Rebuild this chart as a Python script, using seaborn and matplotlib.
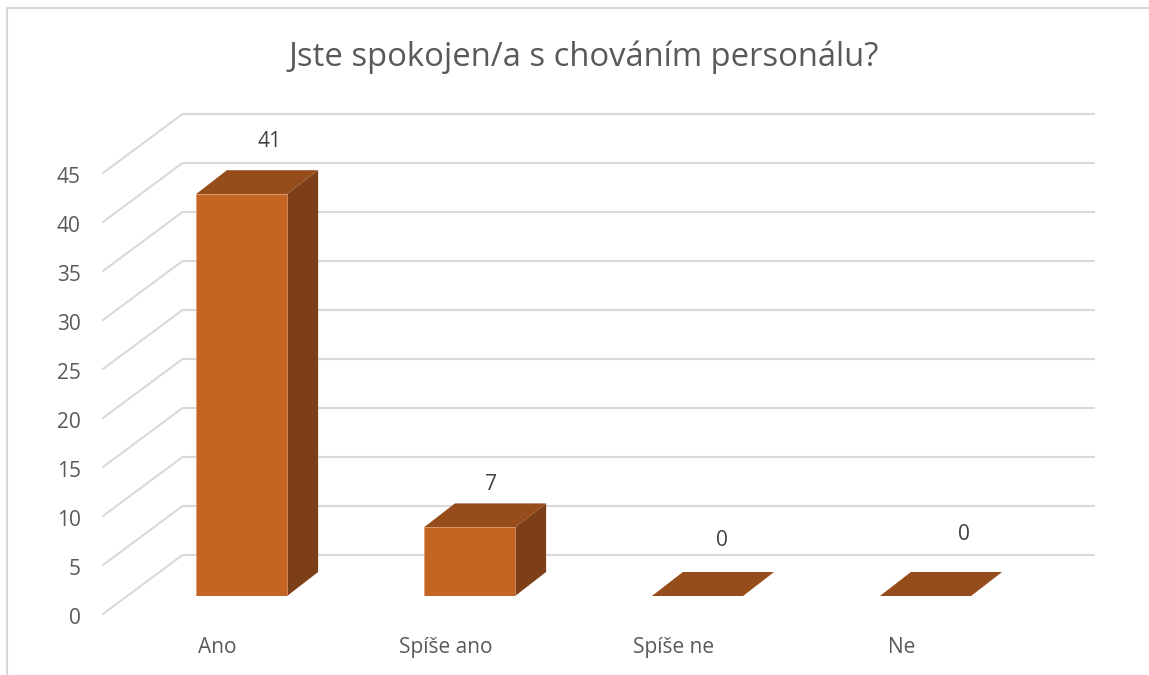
import matplotlib
matplotlib.use("Agg")
import matplotlib.pyplot as plt
import pandas as pd
import seaborn as sns
from matplotlib.lines import Line2D
from matplotlib.patches import Polygon
from matplotlib.transforms import Affine2D, IdentityTransform

categories = ["Ano", "Spíše ano", "Spíše ne", "Ne"]
counts = [41, 7, 0, 0]
y_ticks = [0, 5, 10, 15, 20, 25, 30, 35, 40, 45]
title = "Jste spokojen/a s chováním personálu?"

# label nudges in px from the bar centre / bar top, excel placed them oddly
label_nudges = [(28, 53), (21, 43), (24.5, 56), (38.5, 61)]

FRONT_COLOR = "#C46524"
TOP_COLOR = "#964D1B"
SIDE_COLOR = "#7D3F17"
GRID_COLOR = "#D9D9D9"
TEXT_COLOR = "#595959"

W, H = 1149, 675
FRONT_WALL = (-24.5, -18)  # display offset of the front edge of the floor
BACK_WALL = (55, 41)       # display offset of the back wall
BAR_DEPTH = (31, 24)       # display offset of the back of a bar

sns.set_theme(style="white")
plt.rcParams["font.family"] = ["Open Sans", "DejaVu Sans"]

fig = plt.figure(figsize=(W / 100, H / 100), dpi=100)
ax = fig.add_axes([127.5 / W, (H - 596) / H, 912 / W, 441 / H])

df = pd.DataFrame({"odpoved": categories, "pocet": counts})
sns.barplot(data=df, x="odpoved", y="pocet", color=FRONT_COLOR, saturation=1,
            width=0.4, edgecolor="#DE9A70", linewidth=0.5, zorder=3, ax=ax)
ax.set_xlim(-0.5, 3.5)
ax.set_ylim(0, 45)
ax.set_xlabel("")
ax.set_ylabel("")
ax.set_yticks(y_ticks)
ax.patch.set_visible(False)
sns.despine(ax=ax, left=True, bottom=True)
ax.tick_params(axis="y", length=0, pad=16, labelsize=15, labelcolor=TEXT_COLOR)
ax.tick_params(axis="x", length=0, pad=29.5, labelsize=15, labelcolor=TEXT_COLOR)

# tick labels sit on the front edge of the floor, not on the bar plane
for lab in ax.get_yticklabels():
    lab.set_transform(lab.get_transform() + Affine2D().translate(FRONT_WALL[0], FRONT_WALL[1] - 2))
for lab in ax.get_xticklabels():
    lab.set_transform(lab.get_transform() + Affine2D().translate(-24, 0))

# BACK WALL AND SIDE WALL GRIDLINES
back = ax.transData + Affine2D().translate(*BACK_WALL)
ax.hlines(y_ticks, -0.5, 3.5, transform=back, color=GRID_COLOR, lw=1.5,
          clip_on=False, zorder=0)
for v in y_ticks:
    px, py = ax.transData.transform((-0.5, v))
    fig.add_artist(Line2D([px + FRONT_WALL[0], px + BACK_WALL[0]],
                          [py + FRONT_WALL[1], py + BACK_WALL[1]],
                          transform=IdentityTransform(), color=GRID_COLOR,
                          lw=1.5, zorder=0))

# 3D FACES OF THE BARS
dx, dy = BAR_DEPTH
for bar, value, nudge in zip(ax.patches, counts, label_nudges):
    x0, y0 = ax.transData.transform((bar.get_x(), 0))
    x1, y1 = ax.transData.transform((bar.get_x() + bar.get_width(), bar.get_height()))
    top = [(x0, y1), (x1, y1), (x1 + dx, y1 + dy), (x0 + dx, y1 + dy)]
    ax.add_patch(Polygon(top, transform=IdentityTransform(), facecolor=TOP_COLOR,
                         edgecolor="none", clip_on=False, zorder=2))
    if value > 0:
        side = [(x1, y0), (x1 + dx, y0 + dy), (x1 + dx, y1 + dy), (x1, y1)]
        ax.add_patch(Polygon(side, transform=IdentityTransform(), facecolor=SIDE_COLOR,
                             edgecolor="none", clip_on=False, zorder=2))
    ax.annotate(str(value), (bar.get_x() + bar.get_width() / 2, value), xytext=nudge,
                textcoords="offset pixels", ha="center", va="center",
                fontsize=15, color="#404040", annotation_clip=False)

fig.text(583.5 / W, 1 - 57 / H, title, ha="center", va="center", fontsize=23.6,
         color=TEXT_COLOR)

# CHART FRAME, only left and top are inside the crop
fig.add_artist(Line2D([7 / W, 7 / W, 1], [0, 1 - 8 / H, 1 - 8 / H], color=GRID_COLOR, lw=1.5))

fig.savefig("out.png", dpi=100)
